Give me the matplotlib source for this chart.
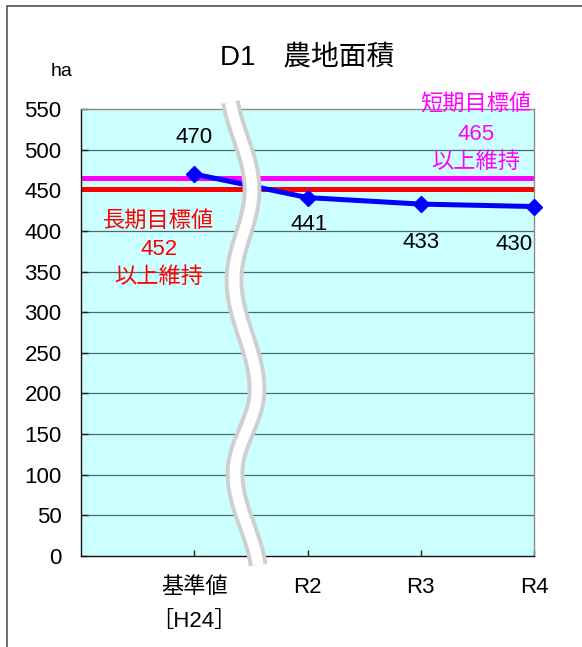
import numpy as np
import matplotlib
matplotlib.use("Agg")
import matplotlib.pyplot as plt
from matplotlib.patches import Rectangle

plt.rcParams['font.family'] = ['Liberation Sans', 'Noto Sans CJK JP', 'DejaVu Sans']

# ---- data ----
categories = ["基準値\n［H24］", "R2", "R3", "R4"]
values = [470, 441, 433, 430]
short_target = 465
long_target = 452
short_label = ["短期目標値", "465", "以上維持"]
long_label = ["長期目標値", "452", "以上維持"]
yticks = [0, 50, 100, 150, 200, 250, 300, 350, 400, 450, 500, 550]
title = "D1　農地面積"
unit = "ha"

W, H = 582, 647
fig = plt.figure(figsize=(W / 100, H / 100), dpi=100)
fig.patch.set_facecolor('white')

axL, axR, axT, axB = 81, 534, 109, 556
ax = fig.add_axes([axL / W, 1 - axB / H, (axR - axL) / W, (axB - axT) / H])
ax.set_facecolor('#CCFFFF')

x = np.arange(1, len(values) + 1)
ax.set_xlim(0, len(values))
ax.set_ylim(0, 550)

# grid
for yv in yticks[1:-1]:
    ax.axhline(yv, color='#4d6a6a', lw=0.9, zorder=1)

# targets
ax.axhline(short_target, color='#FF00FF', lw=3.6, zorder=2, solid_capstyle='butt')
ax.axhline(long_target, color='#FF0000', lw=3.6, zorder=2, solid_capstyle='butt')

# series
ax.plot(x, values, color='#0000FF', lw=3.6, marker='D', ms=8.5,
        markerfacecolor='#0000FF', markeredgecolor='#0000FF', zorder=3, clip_on=False)

offsets = [(0, 26), (1.5, -19.5), (0, -28), (-14.5, -27.5)]
for xi, v, off in zip(x, values, offsets):
    ax.annotate(str(v), (xi, v), xytext=off, textcoords='offset points',
                ha='center', va='center', fontsize=16, color='black', zorder=5)

# target labels
for txt, yf in zip(long_label, [0.749, 0.685, 0.622]):
    ax.text(0.172, yf, txt, transform=ax.transAxes, ha='center', va='center',
            fontsize=16, color='#FF0000', zorder=5)
for txt, yf in zip(short_label, [1.009, 0.942, 0.881]):
    ax.text(0.872, yf, txt, transform=ax.transAxes, ha='center', va='center',
            fontsize=16, color='#FF00FF', zorder=5, clip_on=False)

# axes styling
ax.set_yticks(yticks)
ax.set_yticklabels([str(t) for t in yticks])
ax.set_xticks(x)
ax.set_xticklabels(categories, linespacing=1.85)
ax.tick_params(axis='y', direction='in', length=5, width=1, color='#222222',
               labelsize=16, pad=14)
ax.tick_params(axis='x', direction='in', length=4.5, width=1, color='#222222',
               labelsize=16, pad=15)
for s in ['left', 'bottom']:
    ax.spines[s].set_color('#111111')
    ax.spines[s].set_linewidth(1.0)
for s in ['top', 'right']:
    ax.spines[s].set_color('#8c8c8c')
    ax.spines[s].set_linewidth(1.0)

# break mark (decoration): smooth wave through turning points (pixel positions)
turn_px = [(229, 85), (252, 190), (234, 280), (257, 390), (235, 473), (259, 578)]
ys = np.linspace(102, 565, 400)
xs = np.empty_like(ys)
for i in range(len(turn_px) - 1):
    (xa, ya), (xb, yb) = turn_px[i], turn_px[i + 1]
    m = (ys >= ya) & (ys <= yb)
    s = (ys[m] - ya) / (yb - ya)
    xs[m] = xa + (xb - xa) * (1 - np.cos(np.pi * s)) / 2
cx = (xs - axL) / (axR - axL)
cy = (axB - ys) / (axB - axT)
ax.plot(cx, cy, transform=ax.transAxes, color='#cfcfcf', lw=13.5,
        solid_capstyle='butt', zorder=4, clip_on=False)
ax.plot(cx, cy, transform=ax.transAxes, color='white', lw=7.8,
        solid_capstyle='butt', zorder=4.1, clip_on=False)

# title & unit
fig.text((axL + axR) / 2 / W, 1 - 58 / H, title, ha='center', va='center', fontsize=20)
fig.text(62 / W, 1 - 71 / H, unit, ha='center', va='center', fontsize=14)

# figure border
fig.add_artist(Rectangle((6.5 / W, -0.02), 1.0, 1 - 5.5 / H + 0.02, transform=fig.transFigure,
                         fill=False, edgecolor='#444444', lw=1.1))

fig.savefig('out.png', dpi=100, facecolor='white')
